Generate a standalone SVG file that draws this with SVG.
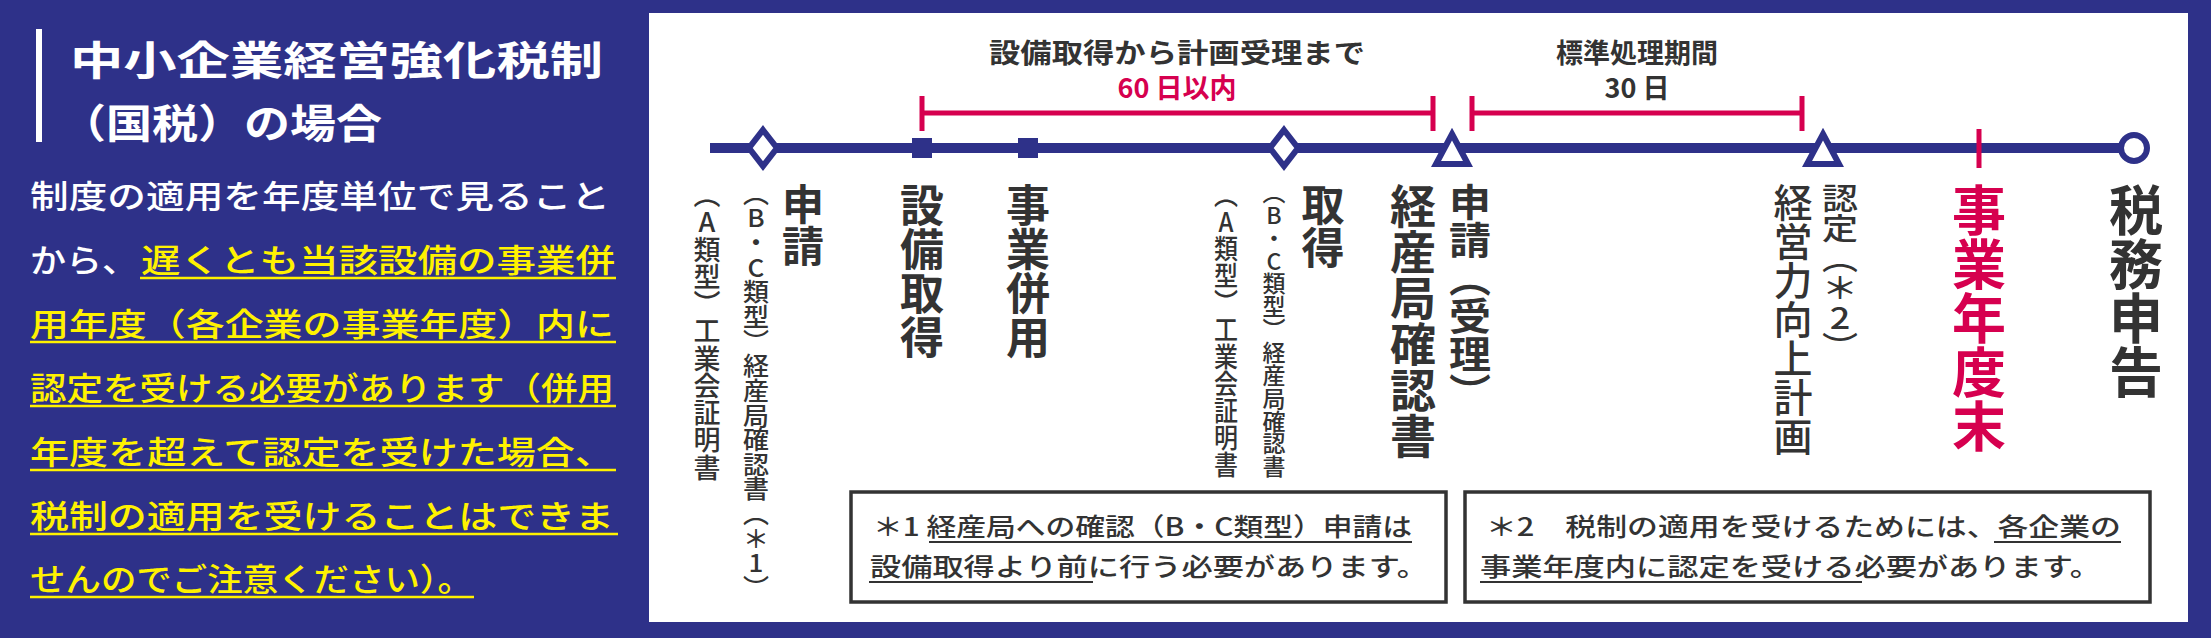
<svg xmlns="http://www.w3.org/2000/svg" width="2211" height="638" viewBox="0 0 2211 638">
<style>
text{font-family:"Noto Sans CJK JP","Noto Sans",sans-serif;}
.w{fill:#fff;font-size:32px;font-weight:500}
.y{fill:#fff200;font-size:32px;font-weight:500}
.yl{stroke:#fff200;stroke-width:2.5}
.v{writing-mode:vertical-rl;text-orientation:upright;fill:#333;}
.b{font-weight:700}
.red{fill:#d6004f}
.note{fill:#333;font-size:25px;font-weight:500}
.ul{stroke:#333;stroke-width:2}
.bk{stroke:#d6004f;stroke-width:5;fill:none}
.nv{stroke:#2e3189;stroke-width:6;fill:#fff}
</style>
<rect width="2211" height="638" fill="#2e3189"/>
<rect x="649" y="13" width="1539" height="609" fill="#fff"/>
<g id="left-panel">
<rect x="36" y="29" width="6" height="113" fill="#fff"/>
<text x="70" y="75" fill="#fff" font-size="40" font-weight="700" textLength="533" lengthAdjust="spacingAndGlyphs">中小企業経営強化税制</text>
<text x="60" y="138" fill="#fff" font-size="40" font-weight="700" textLength="322" lengthAdjust="spacingAndGlyphs">（国税）の場合</text>
<text class="w" x="30" y="208" textLength="580" lengthAdjust="spacingAndGlyphs">制度の適用を年度単位で見ること</text>
<text class="w" x="30" y="272" textLength="108" lengthAdjust="spacingAndGlyphs">から、</text>
<text class="y" x="141" y="272" textLength="474" lengthAdjust="spacingAndGlyphs">遅くとも当該設備の事業併</text>
<text class="y" x="30" y="336" textLength="584" lengthAdjust="spacingAndGlyphs">用年度（各企業の事業年度）内に</text>
<text class="y" x="30" y="400" textLength="584" lengthAdjust="spacingAndGlyphs">認定を受ける必要があります（併用</text>
<text class="y" x="30" y="464" textLength="584" lengthAdjust="spacingAndGlyphs">年度を超えて認定を受けた場合、</text>
<text class="y" x="30" y="528" textLength="584" lengthAdjust="spacingAndGlyphs">税制の適用を受けることはできま</text>
<text class="y" x="30" y="591" textLength="443" lengthAdjust="spacingAndGlyphs">せんのでご注意ください）。</text>
<line class="yl" x1="140" y1="278" x2="616" y2="278"/>
<line class="yl" x1="30" y1="342" x2="616" y2="342"/>
<line class="yl" x1="30" y1="406" x2="616" y2="406"/>
<line class="yl" x1="30" y1="470" x2="616" y2="470"/>
<line class="yl" x1="30" y1="534" x2="618" y2="534"/>
<line class="yl" x1="30" y1="597" x2="474" y2="597"/>
</g>
<g id="connectors">
<line x1="710" y1="148" x2="2122" y2="148" stroke="#2e3189" stroke-width="10"/>
<path class="bk" d="M922,96V131M922,113H1433M1433,96V131"/>
<path class="bk" d="M1472,96V131M1472,113H1802M1802,96V131"/>
</g>
<g id="markers">
<path class="nv" d="M763,130L777,148L763,166L749,148Z"/>
<rect x="912" y="138" width="20" height="20" fill="#2e3189"/>
<rect x="1018" y="138" width="20" height="20" fill="#2e3189"/>
<path class="nv" d="M1284,130L1298,148L1284,166L1270,148Z"/>
<path class="nv" d="M1452,134L1468,164L1436,164Z"/>
<path class="nv" d="M1823,134L1839,164L1807,164Z"/>
<line x1="1979" y1="129" x2="1979" y2="168" stroke="#d6004f" stroke-width="5"/>
<circle cx="2134" cy="148" r="13" class="nv"/>
</g>
<g id="period-labels">
<text x="1177" y="63" text-anchor="middle" fill="#333" font-size="27" font-weight="700" textLength="376" lengthAdjust="spacingAndGlyphs">設備取得から計画受理まで</text>
<text x="1177" y="98" text-anchor="middle" class="red" font-size="27" font-weight="700">60 日以内</text>
<text x="1637" y="63" text-anchor="middle" fill="#333" font-size="27" font-weight="700">標準処理期間</text>
<text x="1637" y="98" text-anchor="middle" fill="#333" font-size="27" font-weight="700">30 日</text>
</g>
<g id="label-shinsei"><text class="v b" x="803" y="183" font-size="42">申請</text></g>
<g id="label-bc1"><text class="v" x="756" y="181" font-size="26" font-weight="500" textLength="419" lengthAdjust="spacingAndGlyphs">（B・C類型）経産局確認書（＊1）</text></g>
<g id="label-a1"><text class="v" x="707" y="181" font-size="27" font-weight="500" textLength="300" lengthAdjust="spacingAndGlyphs">（A類型）工業会証明書</text></g>
<g id="label-setsubi"><text class="v b" x="922" y="183" font-size="44">設備取得</text></g>
<g id="label-jigyo"><text class="v b" x="1028" y="183" font-size="44">事業併用</text></g>
<g id="label-shutoku"><text class="v b" x="1323" y="183" font-size="43">取得</text></g>
<g id="label-bc2"><text class="v" x="1274" y="181" font-size="23" font-weight="500" textLength="297" lengthAdjust="spacingAndGlyphs">（B・C類型）経産局確認書</text></g>
<g id="label-a2"><text class="v" x="1226" y="181" font-size="24" font-weight="500" textLength="297" lengthAdjust="spacingAndGlyphs">（A類型）工業会証明書</text></g>
<g id="label-kakunin"><text class="v b" x="1413" y="183" font-size="46">経産局確認書</text></g>
<g id="label-juri"><text class="v b" x="1470" y="183" font-size="42" textLength="228" lengthAdjust="spacingAndGlyphs">申請（受理）</text></g>
<g id="label-nintei"><text class="v" x="1840" y="183" font-size="36" font-weight="500" textLength="179" lengthAdjust="spacingAndGlyphs">認定（＊2）</text></g>
<g id="label-keiei"><text class="v" x="1793" y="183" font-size="39" font-weight="500">経営力向上計画</text></g>
<g id="label-nendomatsu"><text class="v b red" x="1979" y="183" font-size="54">事業年度末</text></g>
<g id="label-zeimu"><text class="v b" x="2136" y="183" font-size="54">税務申告</text></g>
<g id="note1">
<rect x="851" y="492" width="595" height="110" fill="#fff" stroke="#333" stroke-width="3.5"/>
<text class="note" x="873" y="536" textLength="539" lengthAdjust="spacingAndGlyphs">＊1 経産局への確認（B・C類型）申請は</text>
<text class="note" x="870" y="576" textLength="558" lengthAdjust="spacingAndGlyphs">設備取得より前に行う必要があります。</text>
<line class="ul" x1="929" y1="542" x2="1412" y2="542"/>
<line class="ul" x1="869" y1="582" x2="1093" y2="582"/>
</g>
<g id="note2">
<rect x="1465" y="492" width="685" height="110" fill="#fff" stroke="#333" stroke-width="3.5"/>
<text class="note" x="1486" y="536" textLength="635" lengthAdjust="spacingAndGlyphs">＊2　税制の適用を受けるためには、各企業の</text>
<text class="note" x="1480" y="576" textLength="621" lengthAdjust="spacingAndGlyphs">事業年度内に認定を受ける必要があります。</text>
<line class="ul" x1="1994" y1="542" x2="2121" y2="542"/>
<line class="ul" x1="1480" y1="582" x2="1862" y2="582"/>
</g>
</svg>
